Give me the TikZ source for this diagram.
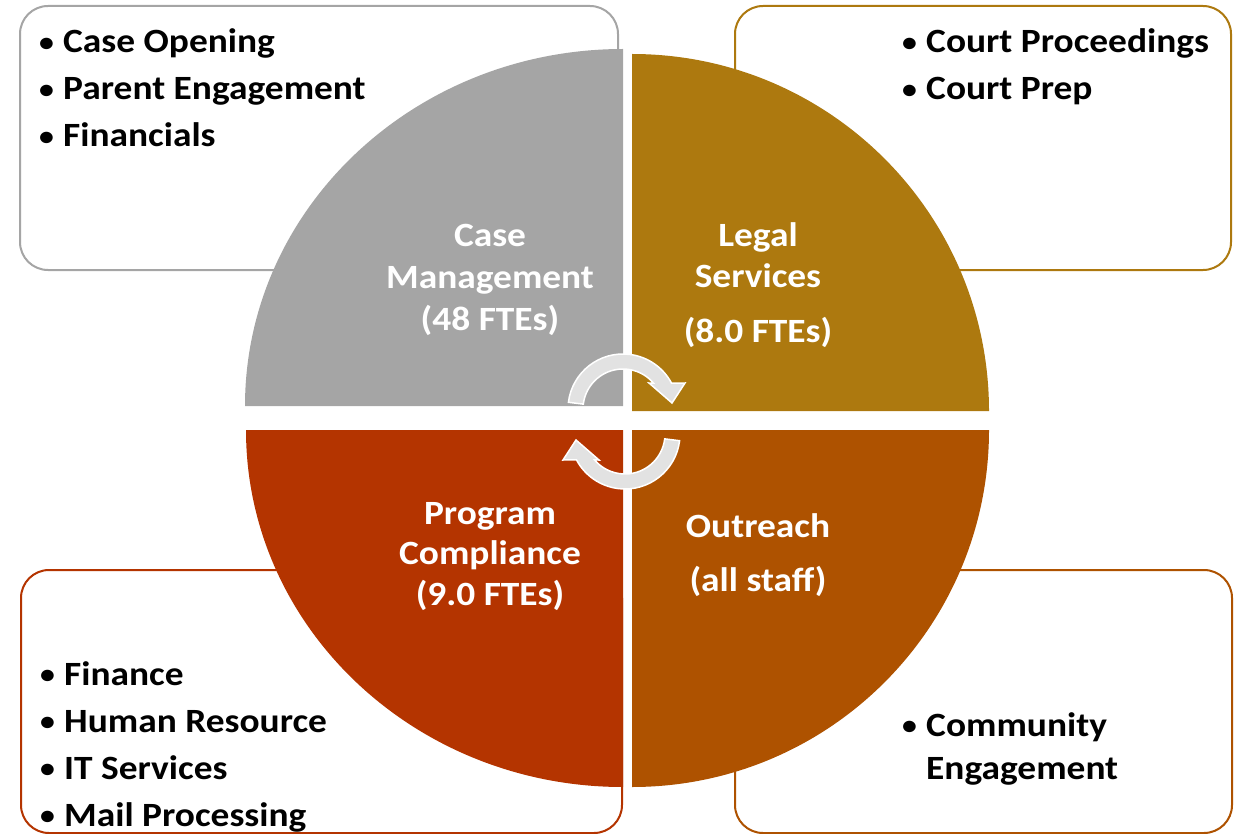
\documentclass[tikz,border=0pt]{standalone}
\usepackage{fontspec}
\setmainfont{Carlito}[FakeStretch=1.1]
\definecolor{cmgray}{HTML}{A5A5A5}
\definecolor{lsgold}{HTML}{AD790F}
\definecolor{pcred}{HTML}{B43400}
\definecolor{orbrown}{HTML}{AE5200}
\definecolor{arrowfill}{HTML}{E2E2E2}
\newcommand{\bitem}[4]{%
  \node[bultext] (#1) at (#2,-#3) {#4};
  \node[buldot] (#1-b) at ([xshift=-9pt,yshift=1.5pt]#1.base west) {\textbullet};}
\newcommand{\qline}[4]{\node[qlabel] (#1) at (#2,-#3) {#4};}
\begin{document}
\begin{tikzpicture}[x=1pt,y=1pt,
  infobox/.style={draw, line width=2pt, rounded corners=28pt, fill=white},
  bultext/.style={anchor=base west, inner sep=0pt, text=black,
    font=\fontsize{34}{40}\selectfont\bfseries},
  buldot/.style={anchor=base east, inner sep=0pt, text=black,
    font=\fontsize{27}{32}\selectfont\bfseries},
  qlabel/.style={anchor=base, inner sep=0pt, text=white,
    font=\fontsize{34}{40}\selectfont\bfseries},
  cyclearrow/.style={fill=arrowfill, draw=white, line width=1.5pt}]
\useasboundingbox (0,0) rectangle (1238,-834);
% corner boxes
\draw[infobox, draw=cmgray]  (20,-6)   rectangle (618,-270);
\draw[infobox, draw=lsgold]  (735,-6)  rectangle (1231,-270);
\draw[infobox, draw=pcred]   (21,-570) rectangle (622,-833);
\draw[infobox, draw=orbrown] (735,-570) rectangle (1232,-833);
% quadrants
\fill[cmgray]  (623,-406) -- (245,-406) arc[start angle=180, end angle=90, x radius=378, y radius=357] -- cycle;
\fill[lsgold]  (632,-411) -- (632,-54) arc[start angle=90, end angle=0, radius=357] -- cycle;
\fill[pcred]   (623,-430) -- (623,-787) arc[start angle=270, end angle=180, x radius=377, y radius=357] -- cycle;
\fill[orbrown] (632,-430) -- (989,-430) arc[start angle=0, end angle=-90, radius=357] -- cycle;
% cycle arrows
\begin{scope}[shift={(623,-409)}]
  \draw[cyclearrow] (173:55) arc[start angle=173, end angle=28, radius=55]
    -- (62,26) -- (49,6) -- (26,26) -- (40.5:40)
    arc[start angle=40.5, end angle=173, radius=40] -- cycle;
\end{scope}
\begin{scope}[shift={(625,-434)}, rotate=180]
  \draw[cyclearrow] (173:55) arc[start angle=173, end angle=28, radius=55]
    -- (62,26) -- (49,6) -- (26,26) -- (40.5:40)
    arc[start angle=40.5, end angle=173, radius=40] -- cycle;
\end{scope}
% quadrant labels
\qline{cm1}{490}{247}{Case}
\qline{cm2}{490}{288}{Management}
\qline{cm3}{490}{330}{(48 FTEs)}
\qline{ls1}{758}{246}{Legal}
\qline{ls2}{758}{287}{Services}
\qline{ls3}{758}{342}{(8.0 FTEs)}
\qline{pc1}{490}{524}{Program}
\qline{pc2}{490}{564}{Compliance}
\qline{pc3}{490}{605}{(9.0 FTEs)}
\qline{ou1}{758}{537}{Outreach}
\qline{ou2}{758}{591}{(all staff)}
% bullet lists
\bitem{tl1}{63}{53}{Case Opening}
\bitem{tl2}{63}{100}{Parent Engagement}
\bitem{tl3}{63}{147}{Financials}
\bitem{tr1}{926}{53}{Court Proceedings}
\bitem{tr2}{926}{100}{Court Prep}
\bitem{bl1}{64}{685}{Finance}
\bitem{bl2}{64}{732}{Human Resource}
\bitem{bl3}{64}{779}{IT Services}
\bitem{bl4}{64}{826}{Mail Processing}
\bitem{br1}{926}{736}{Community}
\node[bultext] (br2) at (926,-779) {Engagement};
\end{tikzpicture}
\end{document}
